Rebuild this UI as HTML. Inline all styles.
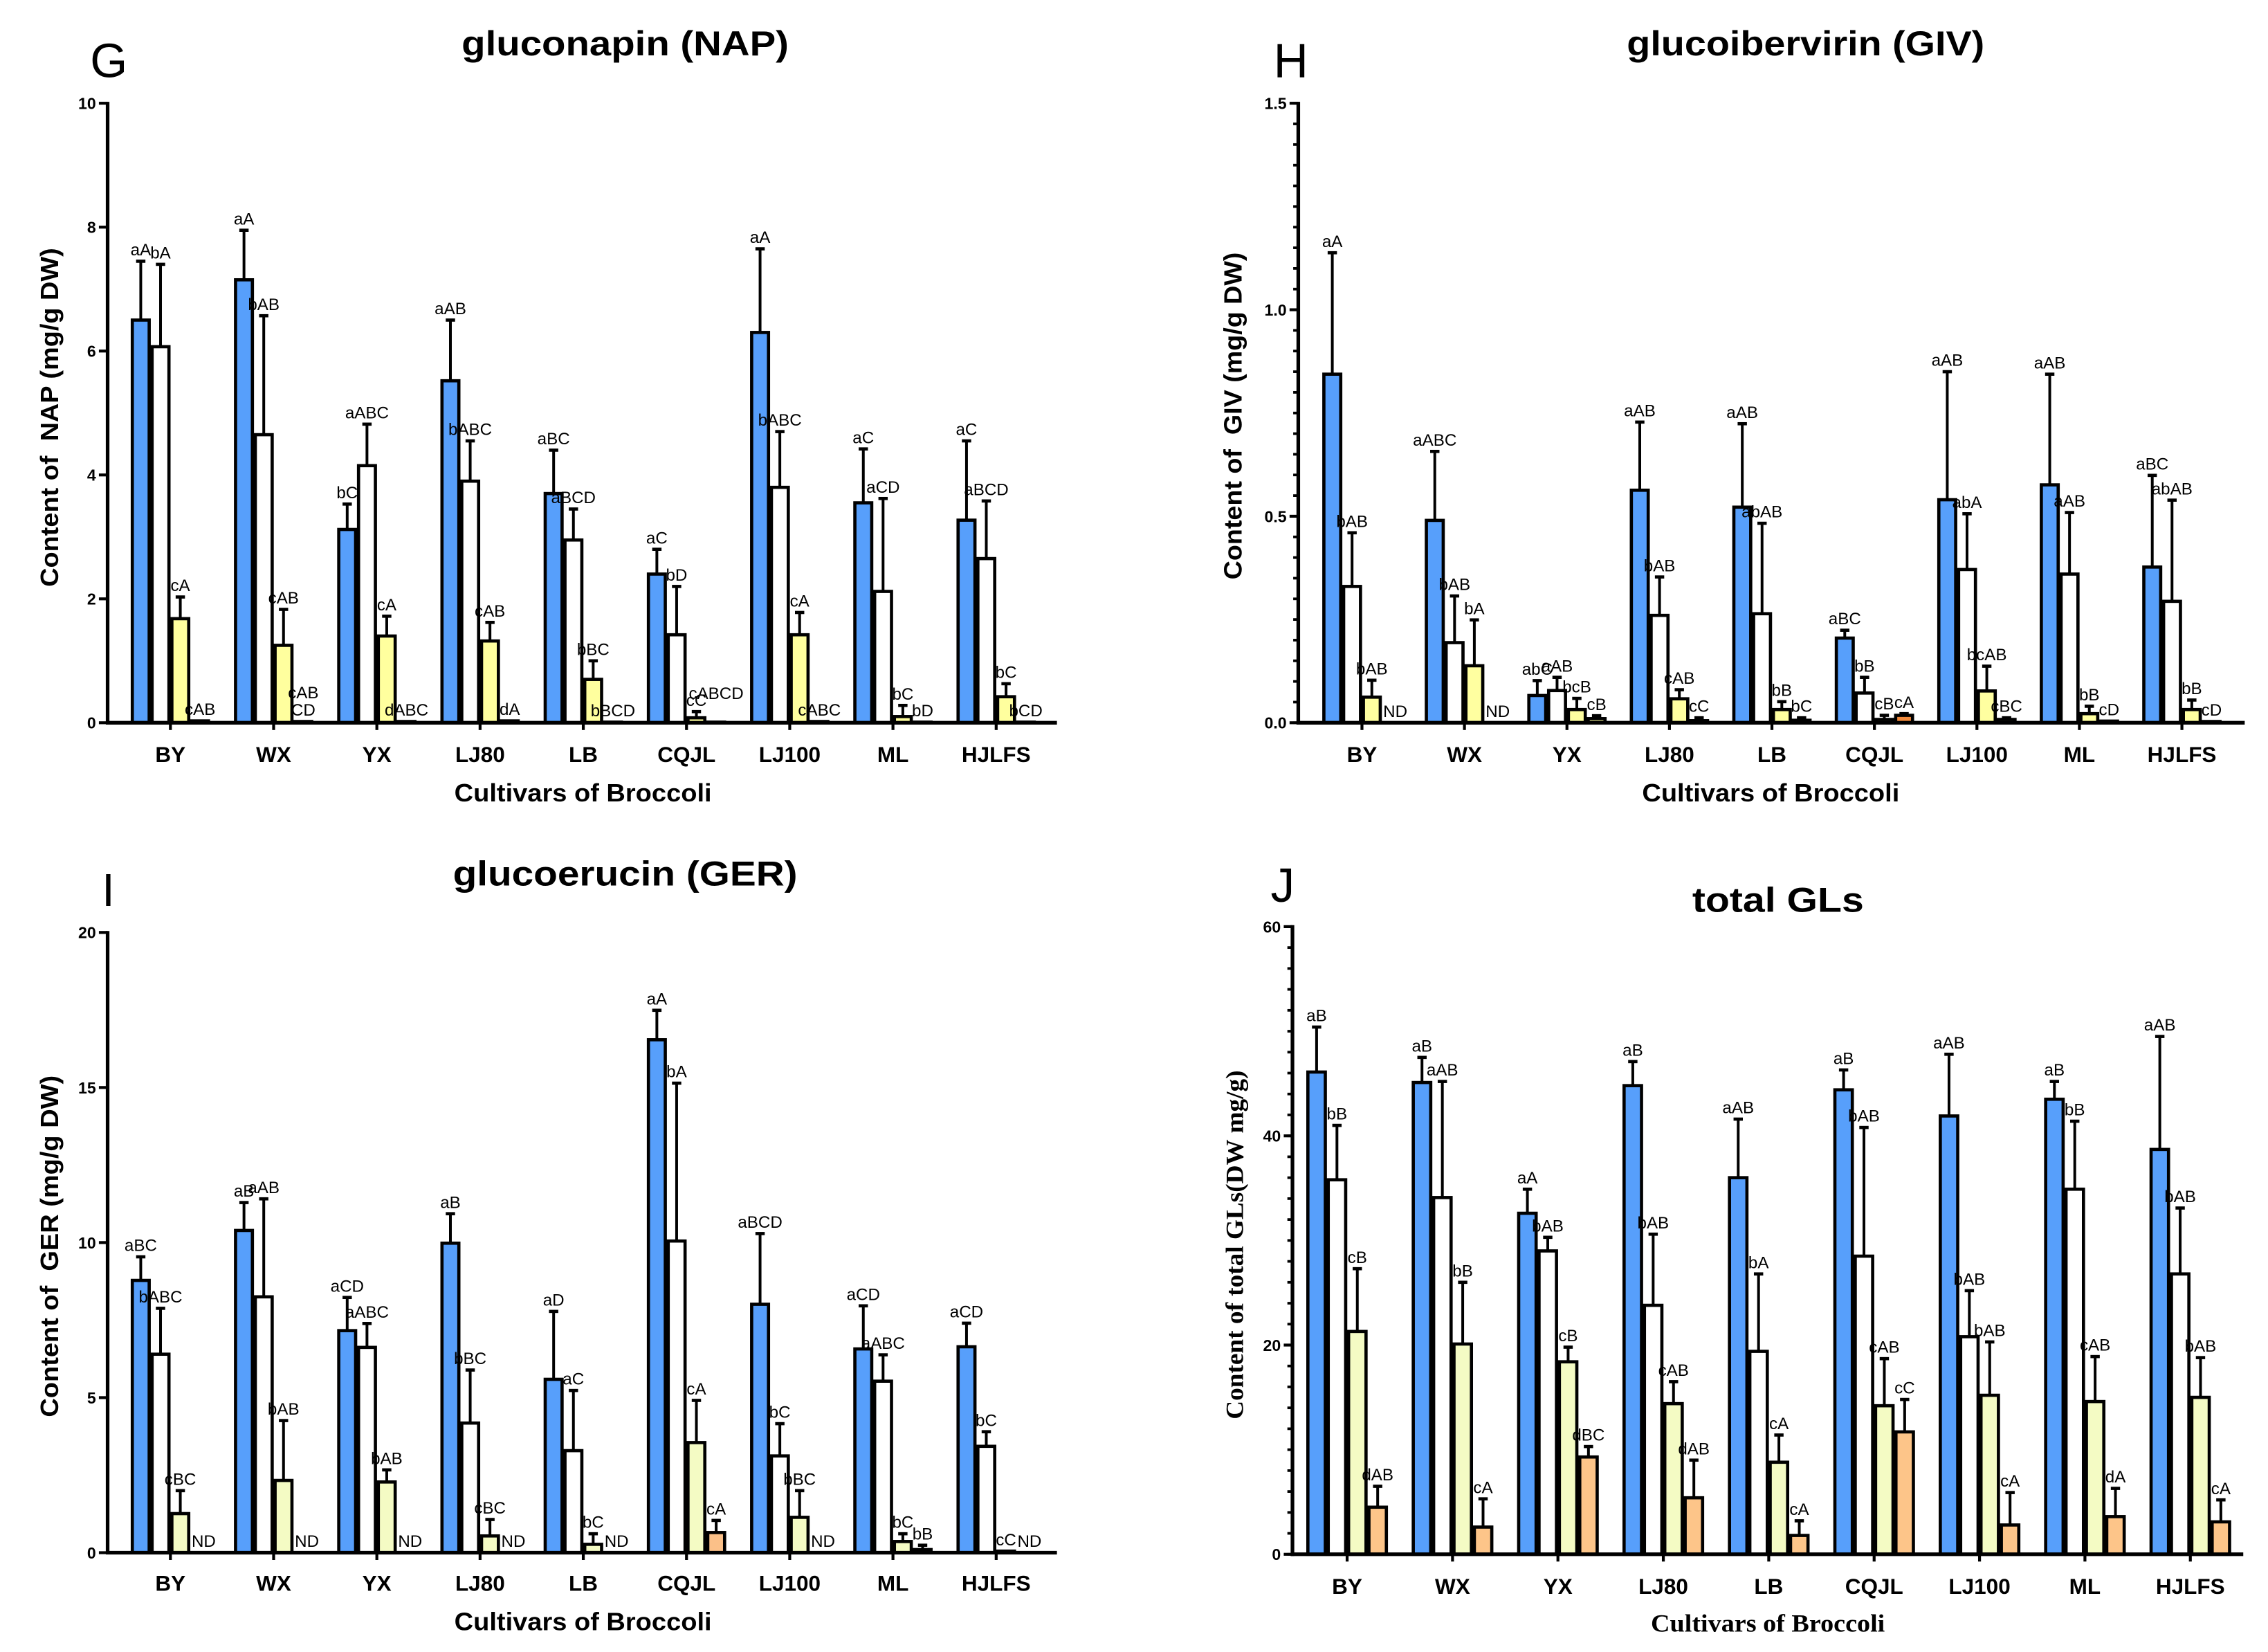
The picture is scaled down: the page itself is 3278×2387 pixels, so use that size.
<!DOCTYPE html>
<html><head><meta charset="utf-8"><style>
html,body{margin:0;padding:0;background:#fff}
svg{display:block}
text{font-family:"Liberation Sans",sans-serif}
</style></head><body>
<svg id="fig" xmlns="http://www.w3.org/2000/svg" width="3278" height="2387" viewBox="0 0 1560 1136">
<rect x="0" y="0" width="1560" height="1136" fill="#fff"/>
</svg>
<script>
const categories = ["BY","WX","YX","LJ80","LB","CQJL","LJ100","ML","HJLFS"];

// Panel G – gluconapin (NAP)
const gBlue = [6.5,7.15,3.12,5.52,3.7,2.4,6.3,3.55,3.27];
const gBlueErr = [7.45,7.95,3.53,6.5,4.4,2.8,7.65,4.42,4.55];
const gWhite = [6.07,4.65,4.15,3.9,2.95,1.42,3.8,2.12,2.65];
const gWhiteErr = [7.4,6.57,4.82,4.55,3.45,2.2,4.7,3.62,3.58];
const gYellow = [1.68,1.25,1.4,1.32,0.7,0.08,1.42,0.1,0.42];
const gYellowErr = [2.03,1.83,1.72,1.62,1.0,0.18,1.78,0.28,0.63];
const gFourth = [0.03,0.02,0.02,0.03,0.01,0.01,0.02,0.01,0.01];
const gFourthErr = [0.03,0.02,0.02,0.03,0.01,0.01,0.02,0.01,0.01];
const gLabels = [["aA","bA","cA","cAB"],["aA","bAB","cAB","cAB|CD"],["bC","aABC","cA","dABC"],["aAB","bABC","cAB","dA"],["aBC","aBCD","bBC","bBCD"],["aC","bD","cC","cABCD"],["aA","bABC","cA","cABC"],["aC","aCD","bC","bD"],["aC","aBCD","bC","bCD"]];
const gTicks = [0,2,4,6,8,10];

// Panel H – glucoibervirin (GIV)
const hBlue = [0.844,0.49,0.066,0.563,0.522,0.205,0.54,0.576,0.377];
const hBlueErr = [1.138,0.657,0.102,0.728,0.724,0.224,0.85,0.844,0.599];
const hWhite = [0.33,0.194,0.078,0.26,0.264,0.072,0.371,0.36,0.294];
const hWhiteErr = [0.46,0.307,0.11,0.353,0.483,0.11,0.506,0.509,0.539];
const hYellow = [0.062,0.138,0.032,0.058,0.032,0.008,0.077,0.022,0.032];
const hYellowErr = [0.103,0.249,0.059,0.08,0.051,0.018,0.137,0.04,0.055];
const hFourth = [0,0,0.01,0.005,0.006,0.018,0.008,0.004,0.003];
const hFourthErr = [0,0,0.017,0.012,0.012,0.022,0.012,0.004,0.003];
const hLabels = [["aA","bAB","bAB","ND"],["aABC","bAB","bA","ND"],["abC","aAB","bcB","cB"],["aAB","bAB","cAB","cC"],["aAB","abAB","bB","bC"],["aBC","bB","cB","cA"],["aAB","abA","bcAB","cBC"],["aAB","aAB","bB","cD"],["aBC","abAB","bB","cD"]];
const hTicks = [0,0.5,1.0,1.5];
const hTickText = ["0.0","0.5","1.0","1.5"];

// Panel I – glucoerucin (GER)
const iBlue = [8.78,10.39,7.16,9.98,5.59,16.54,8.01,6.57,6.64];
const iBlueErr = [9.54,11.29,8.23,10.93,7.78,17.49,10.29,7.96,7.4];
const iWhite = [6.4,8.25,6.62,4.18,3.29,10.05,3.12,5.53,3.43];
const iWhiteErr = [7.88,11.41,7.39,5.89,5.23,15.14,4.16,6.38,3.9];
const iYellow = [1.26,2.33,2.28,0.54,0.27,3.55,1.14,0.36,0.05];
const iYellowErr = [2.0,4.26,2.67,1.07,0.61,4.91,2.0,0.61,0.05];
const iFourth = [0,0,0,0,0,0.65,0,0.1,0];
const iFourthErr = [0,0,0,0,0,1.04,0,0.24,0];
const iLabels = [["aBC","bABC","cBC","ND"],["aB","aAB","bAB","ND"],["aCD","aABC","bAB","ND"],["aB","bBC","cBC","ND"],["aD","aC","bC","ND"],["aA","bA","cA","cA"],["aBCD","bC","bBC","ND"],["aCD","aABC","bC","bB"],["aCD","bC","cC","ND"]];
const iTicks = [0,5,10,15,20];

// Panel J – total GLs
const jBlue = [46.1,45.1,32.6,44.8,36.0,44.4,41.9,43.5,38.7];
const jBlueErr = [50.4,47.5,34.9,47.1,41.6,46.3,47.8,45.2,49.5];
const jWhite = [35.8,34.1,29.0,23.8,19.4,28.5,20.8,34.9,26.8];
const jWhiteErr = [41.0,45.2,30.3,30.6,26.8,40.8,25.2,41.4,33.1];
const jYellow = [21.3,20.1,18.4,14.4,8.8,14.2,15.2,14.6,15.0];
const jYellowErr = [27.3,26.0,19.8,16.5,11.4,18.7,20.3,18.9,18.8];
const jFourth = [4.5,2.6,9.3,5.4,1.8,11.7,2.8,3.6,3.1];
const jFourthErr = [6.5,5.3,10.3,9.0,3.2,14.8,5.9,6.3,5.2];
const jLabels = [["aB","bB","cB","dAB"],["aB","aAB","bB","cA"],["aA","bAB","cB","dBC"],["aB","bAB","cAB","dAB"],["aAB","bA","cA","cA"],["aB","bAB","cAB","cC"],["aAB","bAB","bAB","cA"],["aB","bB","cAB","dA"],["aAB","bAB","bAB","cA"]];
const jTicks = [0,20,40,60];

const NS = "http://www.w3.org/2000/svg";
const svg = document.getElementById("fig");
function mk(tag, attrs, parent){
  const e = document.createElementNS(NS, tag);
  for (const k in attrs) e.setAttribute(k, attrs[k]);
  (parent||svg).appendChild(e);
  return e;
}
function txt(str, attrs, parent){
  const t = mk("text", attrs, parent);
  t.textContent = str;
  return t;
}

function drawPanel(p){
  const g = mk("g", {});
  
  
  const yScale = v => p.y0 - (v - 0) * (p.y0 - p.yTop) / p.yMax;
  const series = [
    {vals:p.blue, err:p.blueErr, fill:"#579ffb", name:"blue"},
    {vals:p.white, err:p.whiteErr, fill:"#ffffff", name:"white"},
    {vals:p.yellow, err:p.yellowErr, fill:p.yellowFill, name:"yellow"},
    {vals:p.fourth, err:p.fourthErr, fill:p.fourthFill, name:"fourth"}
  ];
  categories.forEach((c, i) => {
    const left = p.firstLeft + i * p.step;
    series.forEach((s, k) => {
      const v = s.vals[i];
      const x = left + k * p.bw;
      const cx = x + p.bw / 2;
      const top = yScale(v);
      const fill = (p.fourthSpecial && p.fourthSpecial[i] && k === 3) ? p.fourthSpecial[i] : s.fill;
      if (v > 0) {
        const eTop = yScale(s.err[i]);
        if (s.err[i] > v) {
          const el = mk("line", {x1:cx, x2:cx, y1:top, y2:eTop, stroke:"#000", "stroke-width":1.9}, g);
          
          
          mk("line", {x1:cx-3.2, x2:cx+3.2, y1:eTop, y2:eTop, stroke:"#000", "stroke-width":2.2}, g);
        }
        const r = mk("rect", {x:x+1, y:top, width:p.bw-2, height:Math.max(p.y0-top,0.6), fill:fill, stroke:"#000", "stroke-width":2.2}, g);
        
        
      }
      const lab = p.labels[i][k];
      const ly = (v > 0 ? yScale(Math.max(s.err[i], v)) : p.y0) - 4;
      const parts = lab.split("|");
      parts.forEach((pt, j) => {
        const t = txt(pt, {x: (lab === "ND" ? x + 1 : cx), y: ly - (parts.length - 1 - j) * 12 - (p.labelLift && p.labelLift[i] && p.labelLift[i][k] ? p.labelLift[i][k] : 0), "font-size":11.5, "text-anchor": (lab === "ND" ? "start" : "middle"), fill:"#000"}, g);
        
        
      });
    });
    const tc = p.firstLeft + i * p.step + 2 * p.bw;
    mk("line", {x1:tc, x2:tc, y1:p.y0, y2:p.y0+5, stroke:"#000", "stroke-width":2}, g);
    const ct = txt(c, {x:tc, y:p.catY, "font-size":15, "font-weight":"bold", "text-anchor":"middle"}, g);
    
    
  });
  // minor ticks
  if (p.minor) {
    for (let v = 0; v <= p.yMax + 1e-9; v += p.minor) {
      const y = yScale(v);
      mk("line", {x1:p.axisX-3.5, x2:p.axisX, y1:y, y2:y, stroke:"#000", "stroke-width":1.8}, g);
    }
  }
  p.ticks.forEach((v, j) => {
    const y = yScale(v);
    mk("line", {x1:p.axisX-6, x2:p.axisX, y1:y, y2:y, stroke:"#000", "stroke-width":2}, g);
    const t = txt(p.tickText ? p.tickText[j] : String(v), {x:p.axisX-8, y:y+4, "font-size":11, "font-weight":"bold", "text-anchor":"end"}, g);
    
    
  });
  const ya = mk("line", {x1:p.axisX, x2:p.axisX, y1:p.yTop-1, y2:p.y0+1.2, stroke:"#000", "stroke-width":2.5}, g);
  
  
  const xa = mk("line", {x1:p.axisX-1.2, x2:p.xEnd, y1:p.y0, y2:p.y0, stroke:"#000", "stroke-width":2.5}, g);
  
  
  // titles
  const tt = txt(p.title, {x:p.titleX, y:p.titleY, "font-size":24, "font-weight":"bold", "text-anchor":"middle", textLength:p.titleW, lengthAdjust:"spacingAndGlyphs"}, g);
  
  
  const lt = txt(p.letter, {x:p.letterX, y:p.letterY, "font-size":p.letterSize||33}, g);
  
  
  const fam = p.serif ? "'Liberation Serif',serif" : "'Liberation Sans',sans-serif";
  const xt = txt("Cultivars of Broccoli", {x:p.xTitleX, y:p.xTitleY, "font-size":17, "font-weight":"bold", "text-anchor":"middle", textLength:p.xTitleW, lengthAdjust:"spacingAndGlyphs", style:"font-family:"+fam}, g);
  
  
  const yt = txt(p.yTitle, {x:0, y:0, "font-size":17, "font-weight":"bold", "text-anchor":"middle", textLength:p.yTitleW, lengthAdjust:"spacingAndGlyphs", transform:"translate("+p.yTitleX+","+p.yTitleY+") rotate(-90)", style:"font-family:"+fam+";white-space:pre"}, g);
  
  
}

drawPanel({id:"g", blue:gBlue, blueErr:gBlueErr, white:gWhite, whiteErr:gWhiteErr, yellow:gYellow, yellowErr:gYellowErr, fourth:gFourth, fourthErr:gFourthErr, labels:gLabels, ticks:gTicks,
  yellowFill:"#ffff9e", fourthFill:"#ffff9e", yMax:10, y0:497, yTop:71, axisX:74, xEnd:727, firstLeft:90, step:71, bw:13.6,
  catY:524, title:"gluconapin (NAP)", titleX:430, titleY:38, titleW:225, letter:"G", letterX:62, letterY:53,
  xTitleX:401, xTitleY:551, xTitleW:177, yTitle:"Content of  NAP (mg/g DW)", yTitleX:40, yTitleY:287, yTitleW:233,
  labelLift:{5:{3:12}}});

drawPanel({id:"h", blue:hBlue, blueErr:hBlueErr, white:hWhite, whiteErr:hWhiteErr, yellow:hYellow, yellowErr:hYellowErr, fourth:hFourth, fourthErr:hFourthErr, labels:hLabels, ticks:hTicks, tickText:hTickText, minor:0.05,
  yellowFill:"#ffffa0", fourthFill:"#ffffa0", fourthSpecial:{5:"#f28a3c"}, yMax:1.5, y0:497, yTop:71, axisX:893, xEnd:1544, firstLeft:909.6, step:70.5, bw:13.6,
  catY:524, title:"glucoibervirin (GIV)", titleX:1242, titleY:38, titleW:246, letter:"H", letterX:876, letterY:53,
  xTitleX:1218, xTitleY:551, xTitleW:177, yTitle:"Content of  GIV (mg/g DW)", yTitleX:854, yTitleY:286, yTitleW:225});

drawPanel({id:"i", blue:iBlue, blueErr:iBlueErr, white:iWhite, whiteErr:iWhiteErr, yellow:iYellow, yellowErr:iYellowErr, fourth:iFourth, fourthErr:iFourthErr, labels:iLabels, ticks:iTicks,
  yellowFill:"#f4fbc4", fourthFill:"#fbc088", yMax:20, y0:1067.7, yTop:641.2, axisX:74, xEnd:727, firstLeft:90, step:71, bw:13.6,
  catY:1094, title:"glucoerucin (GER)", titleX:430, titleY:609, titleW:237, letter:"I", letterX:70, letterY:623, letterSize:32,
  xTitleX:401, xTitleY:1121, xTitleW:177, yTitle:"Content of  GER (mg/g DW)", yTitleX:40, yTitleY:857, yTitleW:235});

drawPanel({id:"j", blue:jBlue, blueErr:jBlueErr, white:jWhite, whiteErr:jWhiteErr, yellow:jYellow, yellowErr:jYellowErr, fourth:jFourth, fourthErr:jFourthErr, labels:jLabels, ticks:jTicks, minor:2,
  yellowFill:"#f4fbc4", fourthFill:"#fdc589", yMax:60, y0:1068.8, yTop:637.2, axisX:889, xEnd:1543, firstLeft:898.6, step:72.5, bw:14,
  catY:1096, title:"total GLs", titleX:1223, titleY:627, titleW:118, letter:"J", letterX:874, letterY:620,
  xTitleX:1216, xTitleY:1122, xTitleW:161, serif:true, yTitle:"Content of total GLs(DW mg/g)", yTitleX:855, yTitleY:856, yTitleW:240});
</script>
</body></html>
